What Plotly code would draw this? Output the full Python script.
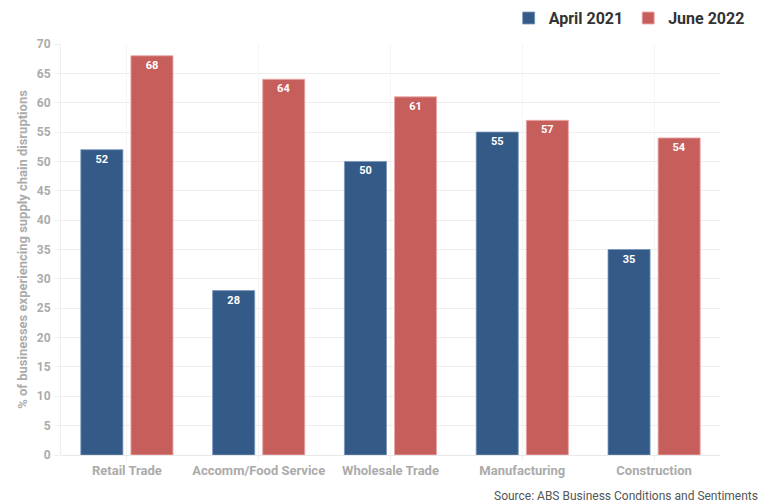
import plotly.graph_objects as go

categories = ["Retail Trade", "Accomm/Food Service", "Wholesale Trade", "Manufacturing", "Construction"]
april_2021 = [52, 28, 50, 55, 35]
june_2022 = [68, 64, 61, 57, 54]
y_ticks = list(range(0, 75, 5))

BLUE = "#345a88"
RED = "#c65e5c"
AXIS_GREY = "#ababab"
GRID = "#eeeeee"

fig = go.Figure()
for name, vals, color, edge in [
    ("April 2021", april_2021, BLUE, "rgba(120,150,190,0.8)"),
    ("June 2022", june_2022, RED, "rgba(235,170,170,0.9)"),
]:
    fig.add_trace(go.Bar(
        name=name, x=categories, y=vals,
        marker=dict(color=color, line=dict(color=edge, width=1)),
        text=[str(v) for v in vals],
        textposition="inside", insidetextanchor="end",
        textangle=0,
        textfont=dict(family="Roboto", size=11, color="white", weight="bold"),
        constraintext="none",
    ))

fig.update_layout(
    width=760, height=504,
    margin=dict(l=61, r=40, t=44, b=49, autoexpand=False),
    paper_bgcolor="white", plot_bgcolor="white",
    barmode="group", bargap=0.24, bargroupgap=0.16,
    font=dict(family="Roboto"),
    legend=dict(
        orientation="h", x=1.045, xanchor="right", y=1.063, yanchor="middle",
        font=dict(family="Roboto", size=16, color="#333333", weight="bold"),
        itemwidth=30, traceorder="normal",
    ),
    xaxis=dict(
        showgrid=True, gridcolor="#f6f6f6", gridwidth=1,
        showline=False, zeroline=False,
        ticks="outside", ticklen=5, tickcolor=GRID,
        tickfont=dict(family="Roboto", size=13, color=AXIS_GREY, weight="bold"),
        ticklabelstandoff=-2,
    ),
    yaxis=dict(
        range=[0, 70], tickvals=y_ticks,
        showgrid=True, gridcolor=GRID, gridwidth=1,
        zeroline=True, zerolinecolor="#e8e8e8", zerolinewidth=1,
        showline=True, linecolor=GRID,
        ticks="outside", ticklen=5, tickcolor=GRID,
        tickfont=dict(family="Roboto", size=12, color=AXIS_GREY, weight="bold"),
        ticklabelstandoff=2,
        title=dict(
            text="% of businesses experiencing supply chain disruptions",
            font=dict(family="Roboto", size=13, color=AXIS_GREY, weight="bold"),
            standoff=6,
        ),
    ),
    annotations=[dict(
        text="Source: ABS Business Conditions and Sentiments",
        xref="paper", yref="paper", x=(492 - 61) / 659, y=-0.1,
        xanchor="left", yanchor="middle", showarrow=False,
        font=dict(family="Roboto", size=12, color="#555555"),
    )],
)

fig.write_html("out.html")
